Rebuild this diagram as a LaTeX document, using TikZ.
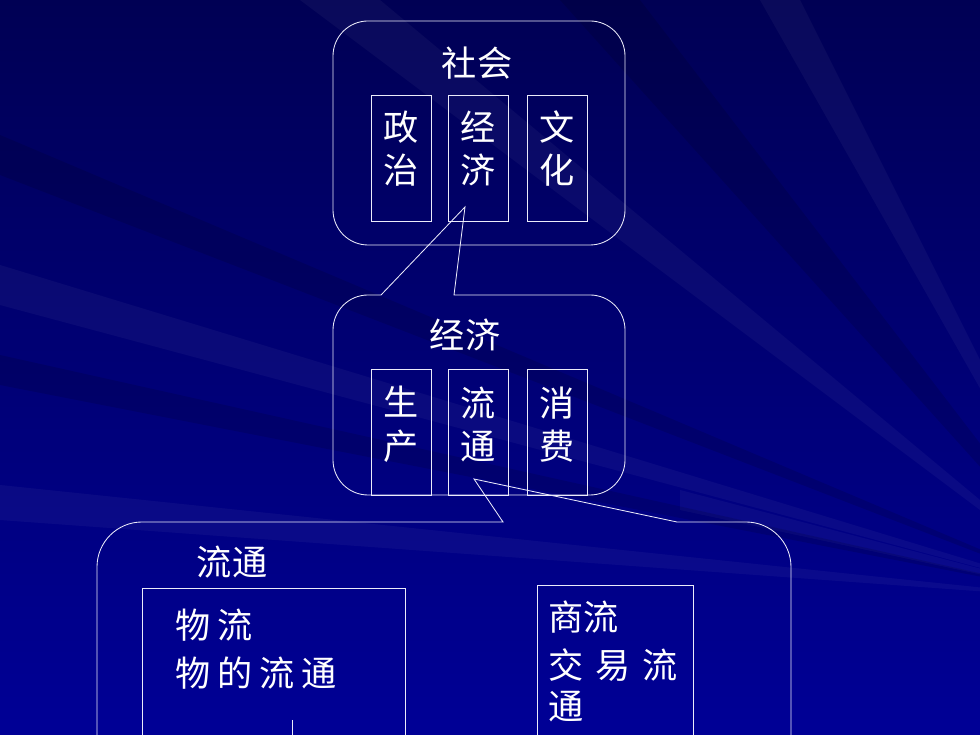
\documentclass[tikz,border=0pt]{standalone}
\usepackage{fontspec}
\setmainfont{Noto Sans CJK SC}
\usepackage{tikz}
\usetikzlibrary{backgrounds}

\definecolor{bgtop}{RGB}{0,0,84}
\definecolor{bgbot}{RGB}{0,0,150}
\definecolor{rim}{RGB}{235,235,250}

\begin{document}
\begin{tikzpicture}[x=0.025cm, y=0.025cm,
    every node/.style={text=white, align=center, inner sep=0pt,
      font=\fontsize{25}{31}\selectfont},
    ln/.style={draw=rim, line width=0.6pt},
    bx/.style={ln, minimum width=1.5cm, minimum height=3.15cm},
    ray/.style={fill=white, opacity=0.04},
    dray/.style={fill=black, opacity=0.12}]
  \useasboundingbox (0,0) rectangle (980,735);
  \clip (0,0) rectangle (980,735);
  % background
  \shade[top color=bgtop, bottom color=bgbot] (0,0) rectangle (980,735);
  \coordinate (fp) at (1100,135);
  \fill[ray] (fp) -- (0,470) -- (0,430) -- cycle;
  \fill[ray] (fp) -- (300,735) -- (380,735) -- cycle;
  \fill[ray] (fp) -- (760,735) -- (800,735) -- cycle;
  \fill[ray] (fp) -- (0,250) -- (0,215) -- cycle;
  \fill[ray] (fp) -- (680,245) -- (680,225) -- cycle;
  \fill[dray] (fp) -- (0,600) -- (0,560) -- cycle;
  \fill[dray] (fp) -- (560,735) -- (640,735) -- cycle;
  \fill[dray] (fp) -- (0,380) -- (0,350) -- cycle;

  % shehui
  \draw[ln, rounded corners=0.875cm] (333,490) rectangle (625,714);
  \node (sh) at (477,672) {社会};
  \node[bx] (zz) at (401,577) {};
  \node[bx] (jj) at (478.5,577) {};
  \node[bx] (wh) at (557,577) {};
  \node (zzt) at (zz|-0,586.5) {政\\治};
  \node (jjt) at (jj|-0,586.5) {经\\济};
  \node (wht) at (wh|-0,586.5) {文\\化};

  % jingji
  \coordinate (tipA) at (465,528);
  \draw[ln] (381,440) -- (tipA) -- (454,440) -- (590,440)
    arc[start angle=90, end angle=0, radius=35] -- (625,275)
    arc[start angle=0, end angle=-90, radius=35] -- (368,240)
    arc[start angle=270, end angle=180, radius=35] -- (333,405)
    arc[start angle=180, end angle=90, radius=35] -- cycle;
  \node (jx) at (465,400) {经济};
  \node[bx] (sc) at (401,303) {};
  \node[bx] (lt) at (478.5,303) {};
  \node[bx] (xf) at (557,303) {};
  \node (sct) at (sc|-0,310.5) {生\\产};
  \node (ltt) at (lt|-0,310.5) {流\\通};
  \node (xft) at (xf|-0,310.5) {消\\费};

  % liutong
  \coordinate (tipB) at (474,256);
  \draw[ln] (97,-20) -- (97,168)
    arc[start angle=180, end angle=90, radius=45] -- (503,213)
    -- (tipB) -- (677,213) -- (746,213)
    arc[start angle=90, end angle=0, radius=45] -- (791,-20);
  \node (lx) at (232,173) {流通};
  \node[ln, minimum width=6.575cm, minimum height=5cm] (wl) at (273.5,47) {};
  \node[ln, minimum width=3.9cm, minimum height=5cm] (sl) at (615,50) {};
  \node[anchor=west] (wl1) at (175,110) {\addfontfeature{LetterSpace=20}物流};
  \node[anchor=west] (wl2) at (175,62) {\addfontfeature{LetterSpace=20}物的流通};
  \node[anchor=west] (sl1) at (548,118) {商流};
  \node[anchor=west] (sl2) at (548,70) {\addfontfeature{LetterSpace=12}交 易 流};
  \node[anchor=west] (sl3) at (548,28) {通};
  \coordinate (vl) at (292,15);
  \draw[ln] (vl) -- (vl|-wl.south);
\end{tikzpicture}
\end{document}
